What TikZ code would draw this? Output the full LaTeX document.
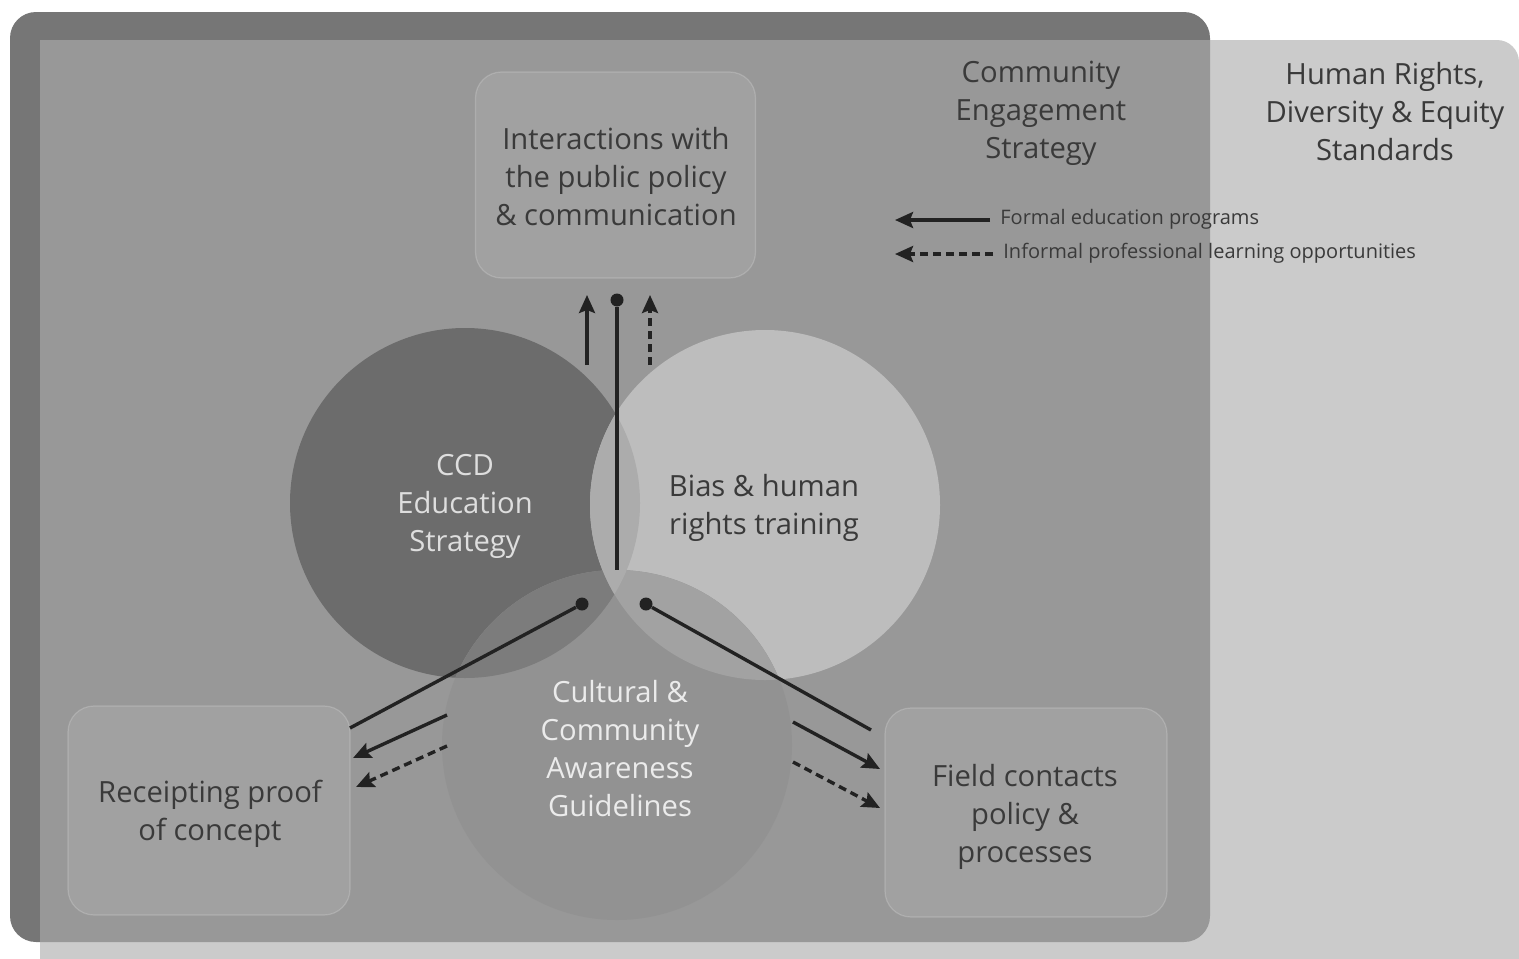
\documentclass[tikz,border=0pt]{standalone}
\usepackage{fontspec}
\setmainfont{Open Sans}
\usetikzlibrary{arrows.meta}

% panel and circle shades
\definecolor{darkpanel}{RGB}{118,118,118}
\definecolor{midpanel}{RGB}{152,152,152}
\definecolor{lightpanel}{RGB}{203,203,203}
\definecolor{ccdfill}{RGB}{108,108,108}
\definecolor{biasfill}{RGB}{189,189,189}
\definecolor{cultfill}{RGB}{146,146,146}
\definecolor{ccdcult}{RGB}{124,124,124}
\definecolor{biascult}{RGB}{162,162,162}
\definecolor{ccdbias}{RGB}{172,172,172}
\definecolor{boxfill}{RGB}{161,161,161}
\definecolor{textdark}{RGB}{58,58,58}
\definecolor{textlight}{RGB}{222,222,222}
\definecolor{arrowcol}{RGB}{34,34,34}

\begin{document}
\begin{tikzpicture}[x=0.5pt,y=-0.5pt,
  label/.style={align=center,font=\fontsize{14.6}{19}\selectfont,text=textdark,inner sep=0pt},
  lightlabel/.style={label,text=textlight},
  legendtext/.style={anchor=west,font=\fontsize{10}{12}\selectfont,text=textdark,inner sep=0pt},
  stagebox/.style={rectangle,rounded corners=13pt,fill=boxfill,draw=white,draw opacity=0.18,line width=0.6pt,inner sep=0pt},
  disc/.style={circle,minimum size=175pt,inner sep=0pt},
  dot/.style={circle,fill=arrowcol,minimum size=6.5pt,inner sep=0pt},
  stem/.style={line width=1.7pt,draw=arrowcol},
  flow/.style={stem,-{Stealth[length=9pt,width=8pt,inset=1.5pt]}},
  informal/.style={flow,dash pattern=on 4pt off 2.5pt}
]
\useasboundingbox (0,0) rectangle (1519,958);
\clip (0,0) rectangle (1519,958);

% outer panels
\fill[darkpanel,rounded corners=13pt] (10,12) rectangle (1210,942);
\fill[lightpanel,rounded corners=11pt] (40,40) rectangle (1519,1000);
\begin{scope}
  \clip[rounded corners=13pt] (10,12) rectangle (1210,942);
  \fill[midpanel] (40,40) rectangle (1519,1000);
\end{scope}

% stage boxes
\node[stagebox,minimum width=140pt,minimum height=103pt] (top) at (615.5,175) {};
\node[stagebox,minimum width=141pt,minimum height=104.5pt] (rec) at (209,810.5) {};
\node[stagebox,minimum width=141pt,minimum height=104.5pt] (field) at (1026,812.5) {};

% the three discs
\node[disc,fill=ccdfill] (ccd) at (465,503) {};
\node[disc,fill=biasfill] (bias) at (765,505) {};
\node[disc,fill=cultfill] (cult) at (617,745) {};
\begin{scope}
  \clip (465,503) circle (87.5pt);
  \fill[ccdcult] (617,745) circle (87.5pt);
\end{scope}
\begin{scope}
  \clip (765,505) circle (87.5pt);
  \fill[biascult] (617,745) circle (87.5pt);
\end{scope}
\begin{scope}
  \clip (465,503) circle (87.5pt);
  \fill[ccdbias] (765,505) circle (87.5pt);
\end{scope}

% headings
\node[label] (ces) at (1041,113) {Community\\Engagement\\Strategy};
\node[label] (hrs) at (1385,112) {Human Rights,\\Diversity \& Equity\\Standards};

% texts
\node[label] (toptext) at (616,177) {Interactions with\\the public policy\\\& communication};
\node[lightlabel] (ccdtext) at (465,506) {CCD\\Education\\Strategy};
\node[label] (biastext) at (764,508) {Bias \& human\\rights training};
\node[lightlabel,text=white!92!black] (culttext) at (620,749) {Cultural \&\\Community\\Awareness\\Guidelines};
\node[label] (rectext) at (210,814) {Receipting proof\\of concept};
\node[label] (fieldtext) at (1025,817) {Field contacts\\policy \&\\processes};

% legend
\coordinate (lgA) at (990,220);
\coordinate (lgAtip) at (895,220);
\coordinate (lgB) at (993,254);
\coordinate (lgBtip) at (895,254);
\draw[flow] (lgA) -- (lgAtip);
\draw[informal] (lgB) -- (lgBtip);
\node[legendtext] (lgtextA) at (1000,219) {Formal education programs};
\node[legendtext] (lgtextB) at (1003,253) {Informal professional learning opportunities};

% stems from the guidelines disc
\node[dot] (d0) at (617,300) {};
\node[dot] (d1) at (582,604) {};
\node[dot] (d2) at (646,604) {};
\coordinate (endL) at (350,728);
\coordinate (endR) at (871,730);
\draw[stem] (cult.north) -- (d0);
\draw[stem] (d1) -- (endL);
\draw[stem] (d2) -- (endR);

% arrows towards the stage boxes
\coordinate (upA) at (587,365);
\coordinate (upAtip) at (587,295);
\coordinate (upB) at (650,365);
\coordinate (upBtip) at (650,295);
\draw[flow] (upA) -- (upAtip);
\draw[informal] (upB) -- (upBtip);

\coordinate (lA) at (447,715);
\coordinate (lAtip) at (353,758);
\coordinate (lB) at (447,746);
\coordinate (lBtip) at (356,787);
\draw[flow] (lA) -- (lAtip);
\draw[informal] (lB) -- (lBtip);

\coordinate (rA) at (793,722);
\coordinate (rAtip) at (880,769);
\coordinate (rB) at (793,762);
\coordinate (rBtip) at (880,808);
\draw[flow] (rA) -- (rAtip);
\draw[informal] (rB) -- (rBtip);
\end{tikzpicture}
\end{document}
